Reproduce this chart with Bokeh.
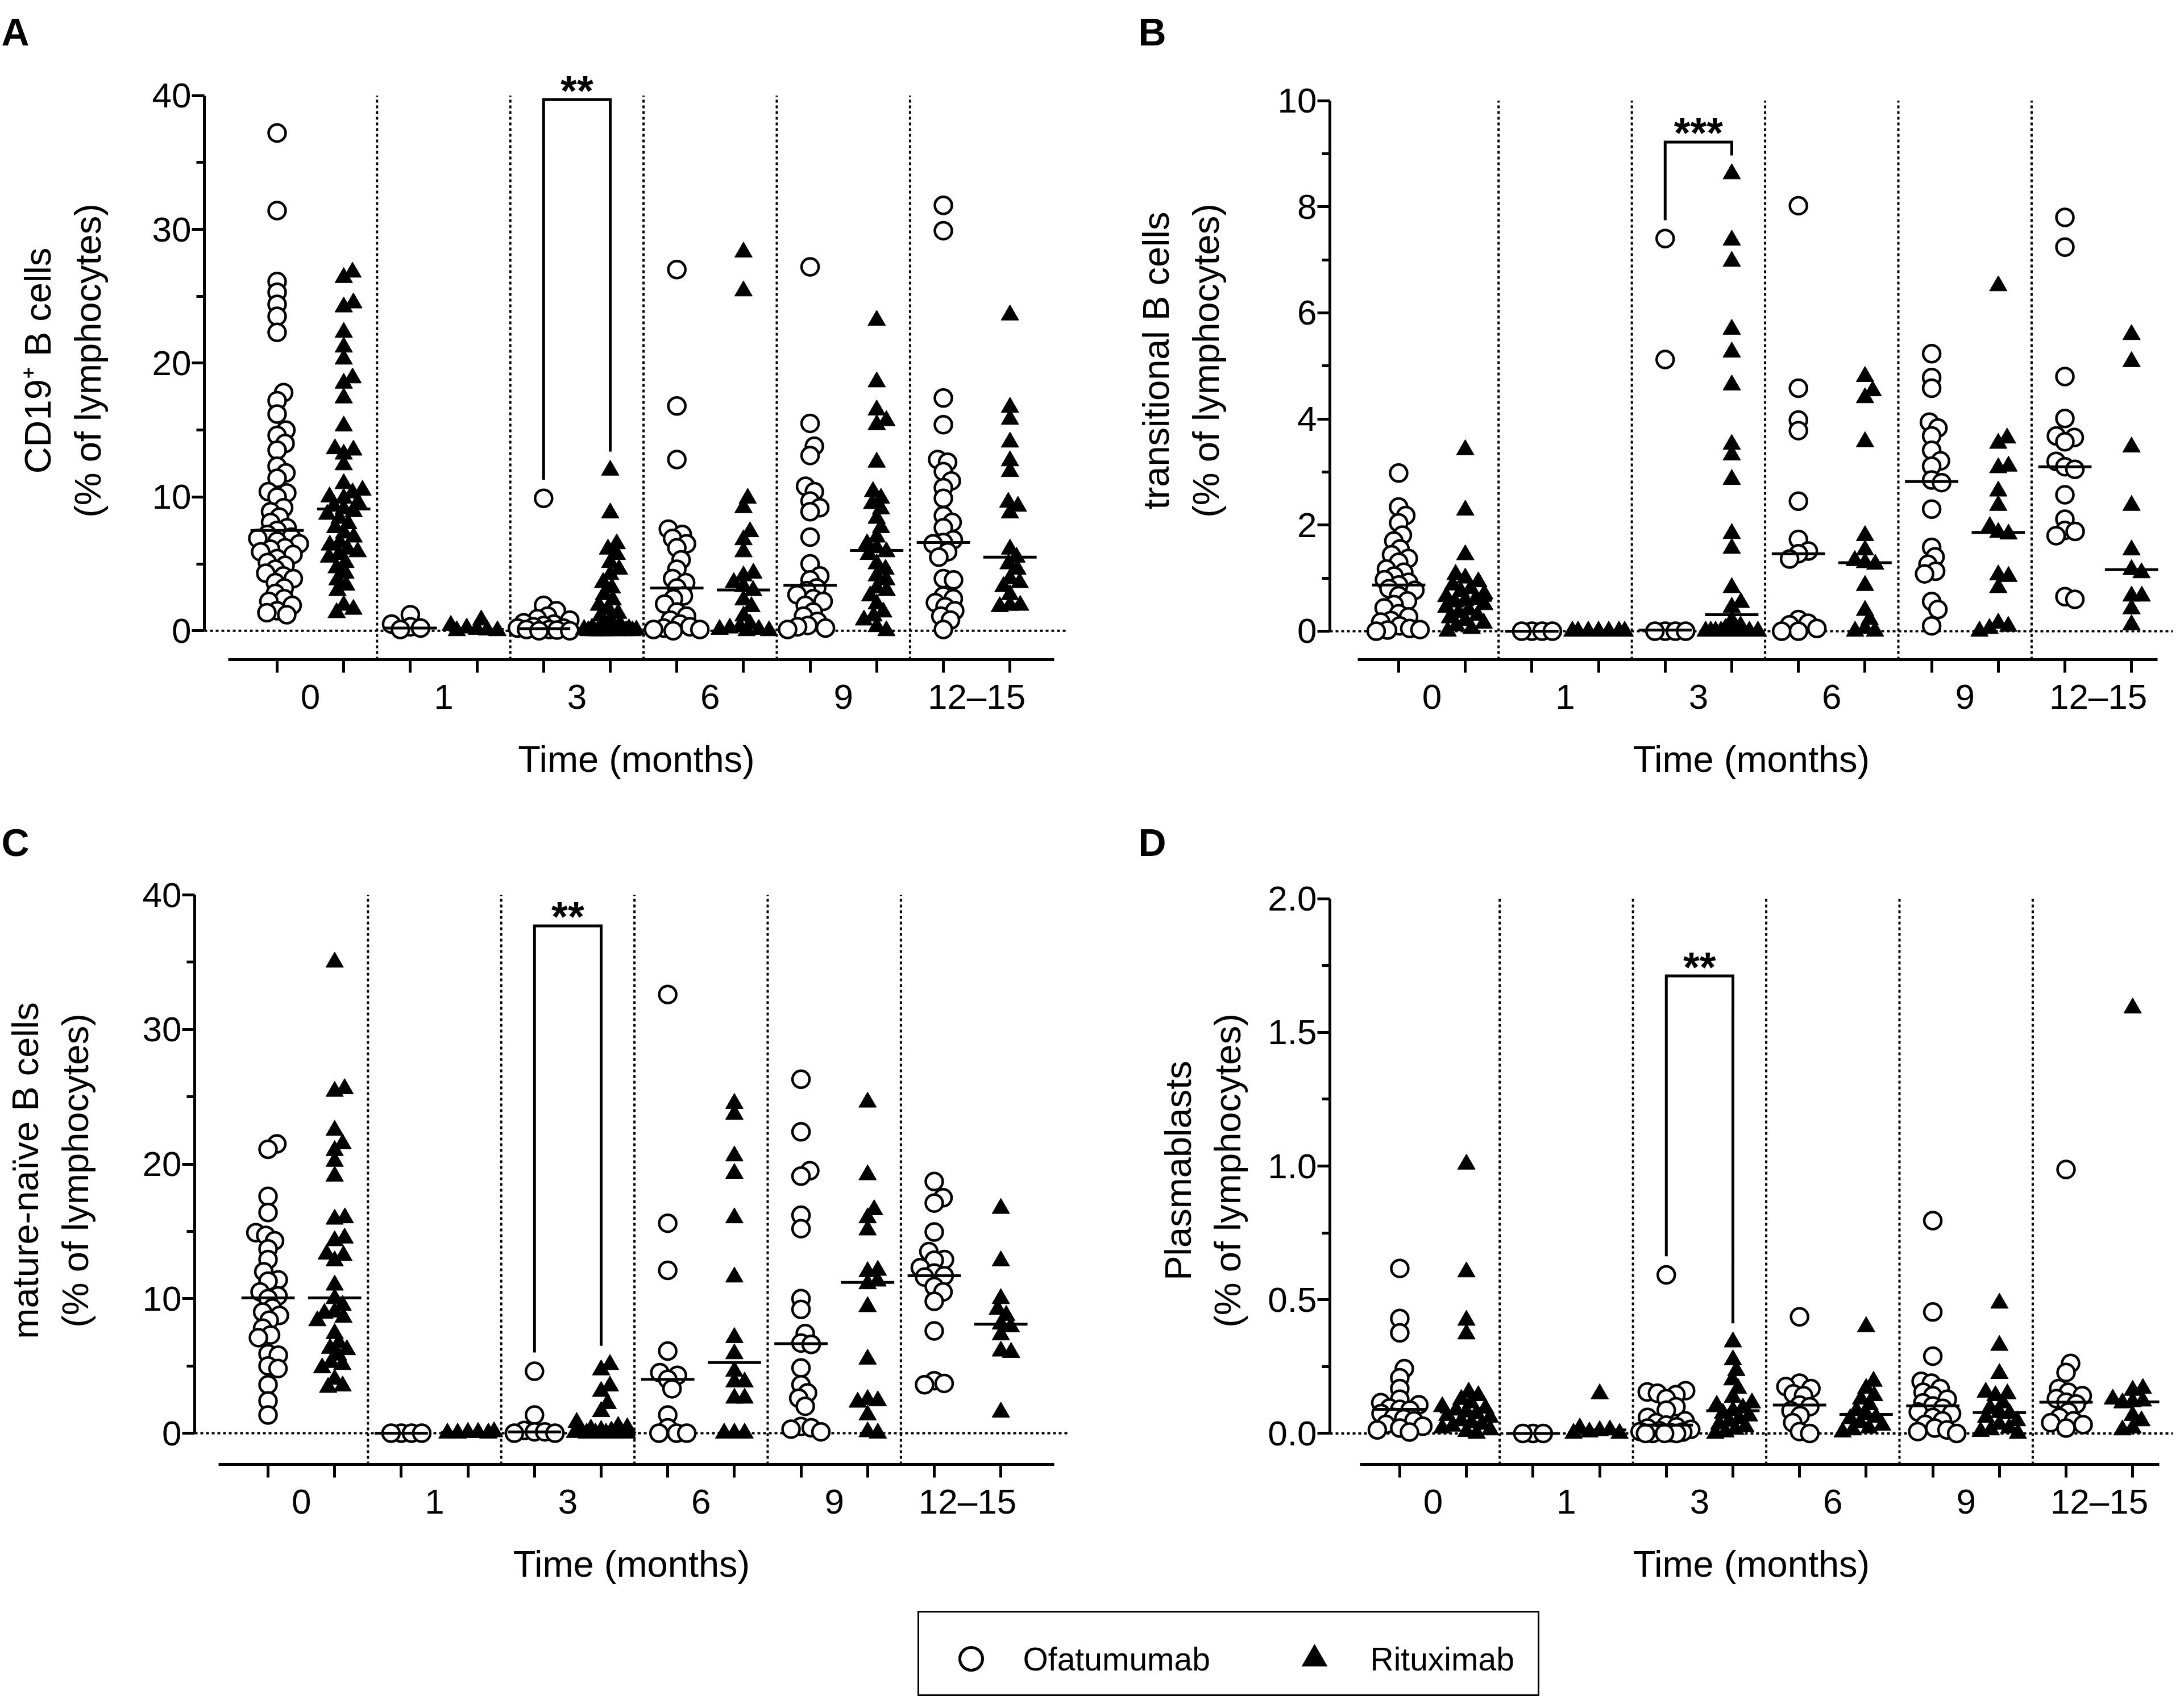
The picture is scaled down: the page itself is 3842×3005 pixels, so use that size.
import numpy as np
from bokeh.plotting import figure
from bokeh.layouts import column, row
from bokeh.models import FixedTicker, Range1d, Span, Title, Spacer
from bokeh.embed import file_html
from bokeh.resources import INLINE
from bokeh.core.properties import value

FONT = "Liberation Sans"

categories = ["0", "1", "3", "6", "9", "12–15"]

# ---------------- Panel A: CD19+ B cells ----------------
cd19_ofa_0 = [37.2, 31.4, 26.1, 25.3, 24.4, 23.5, 22.3, 17.8, 17.2, 16.2, 15.0, 14.6, 14.0, 13.5, 12.3, 11.8, 11.4, 10.4, 10.3, 10.0, 9.2, 8.9, 8.5, 8.1, 7.7, 7.5, 7.2, 7.0, 6.9, 6.7, 6.5, 6.2, 6.1, 5.9, 5.7, 5.4, 5.1, 4.9, 4.6, 4.3, 4.1, 3.9, 3.6, 3.2, 2.8, 2.4, 2.2, 1.9, 1.5, 1.35, 1.2]
cd19_rit_0 = [26.8, 26.4, 24.5, 24.2, 22.3, 21.2, 20.3, 18.9, 18.5, 17.4, 15.3, 13.6, 13.5, 13.2, 12.4, 11.0, 10.5, 10.3, 10.0, 9.9, 9.6, 9.3, 9.1, 8.9, 8.7, 8.4, 8.0, 7.7, 7.3, 7.0, 6.6, 6.4, 6.1, 5.9, 5.7, 5.5, 5.1, 4.7, 4.3, 3.8, 3.4, 3.0, 1.9, 1.6, 1.35]
cd19_ofa_1 = [1.2, 0.5, 0.3, 0.2, 0.1]
cd19_rit_1 = [0.8, 0.4, 0.2, 0.1, 0.05, 0.0, 0.0]
cd19_ofa_3 = [9.9, 1.9, 1.5, 1.1, 0.9, 0.8, 0.6, 0.5, 0.4, 0.3, 0.2, 0.2, 0.1, 0.1, 0.05, 0.0, 0.0]
cd19_rit_3 = [12.0, 8.8, 6.5, 6.1, 5.7, 5.1, 4.6, 4.2, 3.6, 3.2, 2.7, 2.3, 1.9, 1.6, 1.3, 1.1, 0.8, 0.5, 0.3, 0.2, 0.15, 0.1, 0.1, 0.05, 0.05, 0.0, 0.0, 0.0, 0.0, 0.0, 0.0, 0.0, 0.0, 0.0]
cd19_ofa_6 = [27.0, 16.8, 12.8, 7.6, 7.2, 6.9, 6.5, 6.2, 5.3, 4.6, 3.9, 3.6, 3.2, 2.6, 2.4, 2.0, 1.4, 1.1, 0.8, 0.5, 0.3, 0.2, 0.1, 0.1, 0.0]
cd19_rit_6 = [28.3, 25.4, 9.9, 9.2, 7.4, 6.8, 5.9, 4.3, 4.1, 3.6, 3.3, 3.0, 2.3, 1.8, 1.1, 0.5, 0.3, 0.2, 0.1, 0.1, 0.0, 0.0]
cd19_ofa_9 = [27.2, 15.5, 13.8, 13.1, 10.8, 10.4, 9.7, 9.2, 8.9, 7.0, 5.0, 4.1, 3.8, 3.2, 3.0, 2.7, 2.4, 2.2, 1.9, 1.4, 1.1, 0.7, 0.4, 0.3, 0.2, 0.1]
cd19_rit_9 = [23.2, 18.6, 16.5, 15.7, 15.4, 12.6, 10.4, 9.9, 9.5, 9.1, 8.4, 7.7, 7.0, 6.5, 6.2, 5.9, 5.7, 5.0, 4.6, 4.1, 3.8, 3.2, 3.0, 2.6, 2.0, 1.4, 1.1, 0.8, 0.3, 0.0]
cd19_ofa_12 = [31.8, 29.9, 17.4, 15.4, 12.8, 12.6, 11.9, 11.2, 10.7, 9.9, 8.6, 8.1, 7.7, 6.8, 6.6, 6.5, 5.9, 5.5, 3.9, 3.8, 2.6, 2.4, 2.1, 1.8, 1.5, 1.1, 0.8, 0.1]
cd19_rit_12 = [23.6, 16.7, 15.8, 14.1, 12.7, 11.9, 9.6, 9.3, 8.8, 6.1, 5.5, 5.0, 4.6, 3.9, 3.6, 3.3, 2.7, 1.9, 1.9, 1.8]
cd19_ofa_median = [7.5, 0.2, 0.16, 3.2, 3.4, 6.6]
cd19_rit_median = [9.1, 0.1, 0.3, 3.05, 6.0, 5.5]

# ---------------- Panel B: transitional B cells ----------------
tr_ofa_0 = [2.98, 2.34, 2.18, 2.04, 1.81, 1.70, 1.55, 1.44, 1.37, 1.30, 1.17, 1.11, 1.04, 0.97, 0.92, 0.87, 0.80, 0.77, 0.67, 0.57, 0.50, 0.44, 0.33, 0.27, 0.20, 0.17, 0.10, 0.05, 0.03, 0.02, 0.0]
tr_rit_0 = [3.42, 2.28, 1.44, 1.07, 1.0, 0.93, 0.87, 0.8, 0.75, 0.7, 0.65, 0.6, 0.58, 0.55, 0.5, 0.45, 0.4, 0.35, 0.3, 0.25, 0.2, 0.15, 0.1, 0.05, 0.0]
tr_ofa_1 = [0.0, 0.0, 0.0, 0.0]
tr_rit_1 = [0.0, 0.0, 0.0, 0.0, 0.0, 0.0, 0.0]
tr_ofa_3 = [7.40, 5.12, 0.0, 0.0, 0.0, 0.0]
tr_rit_3 = [8.62, 7.37, 6.97, 5.69, 5.26, 4.64, 3.52, 3.32, 2.86, 1.84, 1.56, 0.82, 0.54, 0.45, 0.2, 0.1, 0.05, 0.0, 0.0, 0.0, 0.0, 0.0, 0.0, 0.0, 0.0, 0.0, 0.0]
tr_ofa_6 = [8.02, 4.58, 3.98, 3.78, 2.45, 1.73, 1.51, 1.46, 1.36, 0.22, 0.15, 0.12, 0.05, 0.0, 0.0]
tr_rit_6 = [4.80, 4.53, 4.40, 3.57, 1.80, 1.53, 1.33, 1.29, 1.26, 0.86, 0.39, 0.22, 0.05, 0.0, 0.0]
tr_ofa_9 = [5.23, 4.78, 4.58, 3.94, 3.83, 3.68, 3.41, 3.21, 3.11, 2.85, 2.80, 2.30, 1.58, 1.40, 1.26, 1.13, 1.08, 0.56, 0.41, 0.1]
tr_rit_9 = [6.51, 3.64, 3.54, 3.11, 3.08, 2.64, 2.37, 1.97, 1.86, 1.83, 1.06, 1.03, 0.82, 0.15, 0.09, 0.05, 0.0]
tr_ofa_12 = [7.80, 7.24, 4.80, 4.01, 3.68, 3.65, 3.57, 3.20, 3.10, 3.05, 2.57, 2.11, 1.90, 1.88, 1.80, 0.65, 0.60]
tr_rit_12 = [5.59, 5.08, 3.47, 2.37, 1.53, 1.16, 1.10, 0.66, 0.66, 0.42, 0.12]
tr_ofa_median = [0.87, 0.0, 0.02, 1.46, 2.82, 3.10]
tr_rit_median = [0.58, 0.0, 0.31, 1.29, 1.86, 1.16]

# ---------------- Panel C: mature-naive B cells ----------------
nv_ofa_0 = [21.5, 21.1, 17.6, 16.4, 14.9, 14.7, 14.3, 13.7, 12.9, 12.0, 11.4, 11.3, 10.5, 10.2, 10.0, 9.3, 9.0, 8.75, 8.4, 7.8, 7.3, 7.1, 5.9, 5.8, 5.0, 4.8, 3.6, 2.4, 1.35]
nv_rit_0 = [35.0, 25.6, 25.4, 22.5, 21.5, 21.0, 20.2, 19.1, 16.0, 15.9, 14.5, 14.3, 13.3, 13.2, 12.8, 11.0, 10.0, 9.5, 9.0, 8.9, 8.6, 8.35, 7.4, 6.7, 6.3, 6.2, 5.8, 5.25, 5.1, 4.85, 4.0, 3.5, 3.4]
nv_ofa_1 = [0.0, 0.0, 0.0, 0.0]
nv_rit_1 = [0.1, 0.05, 0.05, 0.0, 0.0, 0.0]
nv_ofa_3 = [4.6, 1.35, 0.2, 0.1, 0.1, 0.0, 0.0]
nv_rit_3 = [5.1, 4.7, 3.5, 3.1, 2.2, 1.6, 0.8, 0.5, 0.4, 0.3, 0.2, 0.15, 0.1, 0.05, 0.05, 0.0, 0.0, 0.0, 0.0, 0.0, 0.0]
nv_ofa_6 = [32.6, 15.6, 12.1, 6.1, 4.5, 4.3, 4.0, 3.3, 1.35, 0.4, 0.0, 0.0, 0.0]
nv_rit_6 = [24.5, 23.7, 20.6, 19.3, 16.0, 11.6, 7.1, 5.9, 4.6, 3.8, 3.8, 2.6, 2.6, 0.0, 0.0, 0.0]
nv_ofa_9 = [26.3, 22.4, 19.5, 19.1, 16.2, 15.2, 10.0, 9.2, 7.4, 6.7, 6.6, 4.85, 3.6, 3.0, 2.6, 2.0, 0.5, 0.4, 0.3, 0.1]
nv_rit_9 = [24.6, 19.2, 16.6, 16.0, 15.1, 12.1, 12.0, 11.3, 11.1, 9.4, 5.5, 2.5, 2.4, 2.3, 1.35, 0.1, 0.0]
nv_ofa_12 = [18.7, 17.5, 17.1, 14.95, 13.5, 12.9, 12.85, 12.3, 11.9, 11.7, 11.6, 10.9, 10.5, 9.8, 7.6, 3.9, 3.7, 3.6]
nv_rit_12 = [16.7, 12.8, 10.0, 9.2, 8.75, 8.1, 7.9, 7.3, 6.1, 6.0, 1.56]
nv_ofa_median = [10.05, 0.0, 0.1, 4.0, 6.65, 11.7]
nv_rit_median = [10.05, 0.05, 0.1, 5.25, 11.2, 8.1]

# ---------------- Panel D: plasmablasts ----------------
pb_ofa_0 = [0.617, 0.43, 0.376, 0.242, 0.208, 0.168, 0.128, 0.115, 0.107, 0.095, 0.09, 0.087, 0.074, 0.06, 0.055, 0.047, 0.034, 0.027, 0.02, 0.013, 0.005]
pb_rit_0 = [1.007, 0.604, 0.423, 0.372, 0.154, 0.141, 0.127, 0.114, 0.10, 0.094, 0.087, 0.08, 0.074, 0.067, 0.06, 0.047, 0.04, 0.034, 0.027, 0.02, 0.013, 0.007, 0.0]
pb_ofa_1 = [0.0, 0.0, 0.0]
pb_rit_1 = [0.148, 0.02, 0.013, 0.01, 0.005, 0.0, 0.0]
pb_ofa_3 = [0.593, 0.16, 0.155, 0.15, 0.145, 0.13, 0.1, 0.087, 0.06, 0.047, 0.04, 0.031, 0.025, 0.02, 0.015, 0.01, 0.007, 0.005, 0.003, 0.0, 0.0, 0.0, 0.0]
pb_rit_3 = [0.342, 0.275, 0.235, 0.2, 0.168, 0.135, 0.114, 0.105, 0.095, 0.085, 0.075, 0.065, 0.055, 0.045, 0.035, 0.025, 0.015, 0.005, 0.0]
pb_ofa_6 = [0.436, 0.188, 0.175, 0.168, 0.148, 0.141, 0.106, 0.1, 0.085, 0.067, 0.04, 0.007, 0.0]
pb_rit_6 = [0.399, 0.195, 0.168, 0.141, 0.128, 0.107, 0.085, 0.071, 0.06, 0.055, 0.04, 0.03, 0.02, 0.013, 0.005]
pb_ofa_9 = [0.796, 0.454, 0.289, 0.195, 0.188, 0.168, 0.154, 0.141, 0.128, 0.114, 0.103, 0.094, 0.08, 0.074, 0.06, 0.047, 0.034, 0.02, 0.013, 0.007, 0.0]
pb_rit_9 = [0.487, 0.329, 0.224, 0.154, 0.148, 0.141, 0.114, 0.095, 0.078, 0.074, 0.06, 0.047, 0.034, 0.02, 0.013, 0.007, 0.0]
pb_ofa_12 = [0.987, 0.262, 0.228, 0.168, 0.154, 0.141, 0.13, 0.117, 0.11, 0.08, 0.06, 0.047, 0.04, 0.033, 0.02]
pb_rit_12 = [1.591, 0.168, 0.161, 0.128, 0.121, 0.118, 0.114, 0.067, 0.047, 0.02, 0.013]
pb_ofa_median = [0.09, 0.0, 0.031, 0.106, 0.103, 0.117]
pb_rit_median = [0.08, 0.013, 0.085, 0.071, 0.078, 0.118]

# y-axis tick values per panel
cd19_ticks = [0, 10, 20, 30, 40]
cd19_minor = [5, 15, 25, 35]
tr_ticks = [0, 2, 4, 6, 8, 10]
tr_minor = [1, 3, 5, 7, 9]
nv_ticks = [0, 10, 20, 30, 40]
nv_minor = [5, 15, 25, 35]
pb_ticks = [0.0, 0.5, 1.0, 1.5, 2.0]
pb_tick_labels = ["0.0", "0.5", "1.0", "1.5", "2.0"]
pb_minor = [0.25, 0.75, 1.25, 1.75]

# significance (month 3 comparison)
sig_labels = ["**", "***", "**", "**"]

UX = 117.2          # px per x unit
MEDIAN_HALF = 0.4   # half-width of median bar (x units)


def swarm_offsets(vals, ppu_y, dmin=18.0, max_off=46.0):
    vals = np.asarray(vals, float)
    n = len(vals)
    offs = np.zeros(n)
    if n == 0:
        return offs
    med = np.median(vals)
    order = np.argsort(np.abs(vals - med), kind="stable")
    steps = np.arange(0.5, max_off + 0.25, 0.5)
    cands = np.concatenate([[0.0], np.ravel(np.column_stack([steps, -steps]))])
    px, py = [], []
    for i in order:
        y = vals[i] * ppu_y
        if not px:
            offs[i] = 0.0
        else:
            ax = np.array(px)
            ay = np.array(py)
            dy2 = (ay - y) ** 2
            d2 = np.array([np.min((ax - c) ** 2 + dy2) for c in cands])
            ok = np.where(d2 >= dmin ** 2)[0]
            offs[i] = cands[ok[0]] if len(ok) else cands[int(np.argmax(d2))]
        px.append(offs[i])
        py.append(y)
    return offs


def make_panel(letter, ylabel, ofa_groups, rit_groups, ofa_med, rit_med,
               ymax, ticks, minor, tick_labels, sig, bracket_top, g):
    title = Title(text=letter, align="left", offset=g["toff"], standoff=g["tstand"],
                  text_font=FONT, text_font_size="68px", text_font_style="bold",
                  text_color="black")
    p = figure(width=g["width"], height=g["height"], title=title,
               x_range=Range1d(*g["xr"]), y_range=Range1d(*g["yr"]),
               output_backend="svg", toolbar_location=None,
               min_border_left=g["mbl"], min_border_right=g["mbr"],
               min_border_top=g["mbt"], min_border_bottom=g["mbb"])
    p.xgrid.visible = False
    p.ygrid.visible = False
    p.outline_line_color = None

    # y axis
    ya = p.yaxis[0]
    ya.ticker = FixedTicker(ticks=ticks, minor_ticks=minor)
    ya.bounds = (0, ymax)
    ya.axis_line_width = 5
    ya.major_tick_line_width = 5
    ya.minor_tick_line_width = 5
    ya.major_tick_out = 22
    ya.major_tick_in = 0
    ya.minor_tick_out = 14
    ya.minor_tick_in = 0
    ya.major_label_standoff = 1
    ya.major_label_text_font = FONT
    ya.major_label_text_font_size = "62px"
    ya.major_label_text_color = "black"
    ya.major_label_overrides = {t: s for t, s in zip(ticks, tick_labels)}
    ya.axis_label = ylabel
    ya.axis_label_text_font = FONT
    ya.axis_label_text_font_size = "65px"
    ya.axis_label_text_font_style = "normal"
    ya.axis_label_text_color = "black"
    ya.axis_label_standoff = g["std"]

    # x axis
    n = len(categories)
    xa = p.xaxis[0]
    xa.ticker = FixedTicker(ticks=[2 * i + 0.5 for i in range(n)],
                            minor_ticks=list(range(2 * n)))
    xa.bounds = g["xb"]
    xa.axis_line_width = 5
    xa.major_tick_line_color = None
    xa.major_tick_out = 23
    xa.major_tick_in = 0
    xa.minor_tick_out = 23
    xa.minor_tick_in = 0
    xa.minor_tick_line_width = 5
    xa.major_label_standoff = 7
    xa.major_label_overrides = {2 * i + 0.5: c for i, c in enumerate(categories)}
    xa.major_label_text_font = FONT
    xa.major_label_text_font_size = "62px"
    xa.major_label_text_color = "black"
    xa.axis_label = "Time (months)"
    xa.axis_label_text_font = FONT
    xa.axis_label_text_font_size = "65px"
    xa.axis_label_text_font_style = "normal"
    xa.axis_label_text_color = "black"
    xa.axis_label_standoff = 36

    # zero line
    zl = Span(location=0, dimension="width", line_color="black",
              line_width=4, line_dash="5 5", level="underlay")
    p.add_layout(zl)

    # group separators
    seps = [2 * i + 1.5 for i in range(n - 1)]
    p.segment(x0=seps, x1=seps, y0=[g["yr"][0]] * len(seps), y1=[ymax] * len(seps),
              line_color="black", line_width=4, line_dash="5 5")

    ppu = g["ppu"]
    for i in range(n):
        xo, xr = 2 * i, 2 * i + 1
        oo = swarm_offsets(ofa_groups[i], ppu)
        ro = swarm_offsets(rit_groups[i], ppu)
        p.scatter(x=list(xo + oo / UX), y=list(ofa_groups[i]), marker="circle",
                  size=30, fill_color="white", line_color="black", line_width=4.5)
        p.scatter(x=list(xr + ro / UX), y=list(rit_groups[i]), marker="triangle",
                  size=31, fill_color="black", line_color="black", line_width=1)
    # medians
    xs_o = [2 * i for i in range(n)]
    xs_r = [2 * i + 1 for i in range(n)]
    p.segment(x0=[x - MEDIAN_HALF for x in xs_o], x1=[x + MEDIAN_HALF for x in xs_o],
              y0=ofa_med, y1=ofa_med, line_color="black", line_width=5)
    p.segment(x0=[x - MEDIAN_HALF for x in xs_r], x1=[x + MEDIAN_HALF for x in xs_r],
              y0=rit_med, y1=rit_med, line_color="black", line_width=5)

    # significance bracket at month 3
    gap = 33.0 / ppu
    xo, xr = 4, 5
    lo = max(ofa_groups[2]) + gap
    hi = max(rit_groups[2]) + gap
    p.line(x=[xo, xo, xr, xr], y=[lo, bracket_top, bracket_top, hi],
           line_color="black", line_width=5, line_join="miter")
    p.text(x=[(xo + xr) / 2], y=[bracket_top], text=[sig], text_align="center",
           text_baseline="alphabetic", y_offset=-16, text_font=value(FONT),
           text_font_size="74px", text_font_style="bold", text_color="black")
    return p


GEO = {
    "A": dict(width=1912, height=1405, mbl=359, mbr=33, mbt=102, mbb=245,
              xr=(-1.092, 11.877), yr=(-2.154, 42.534), xb=(-0.73, 11.66),
              ppu=23.675, std=74, toff=-357, tstand=30),
    "B": dict(width=1914, height=1405, mbl=427, mbr=4, mbt=102, mbb=230,
              xr=(-1.032, 11.621), yr=(-0.536, 10.735), xb=(-0.61, 11.39),
              ppu=95.2, std=87, toff=-337, tstand=30),
    "C": dict(width=1912, height=1427, mbl=342, mbr=33, mbt=137, mbb=256,
              xr=(-1.101, 12.014), yr=(-2.323, 41.352), xb=(-0.74, 11.8),
              ppu=23.675, std=79, toff=-340, tstand=46),
    "D": dict(width=1914, height=1427, mbl=427, mbr=4, mbt=137, mbb=246,
              xr=(-1.049, 11.604), yr=(-0.116, 2.082), xb=(-0.6, 11.4),
              ppu=475.0, std=31, toff=-337, tstand=46),
}

pA = make_panel("A", "CD19⁺ B cells\n(% of lymphocytes)",
                [cd19_ofa_0, cd19_ofa_1, cd19_ofa_3, cd19_ofa_6, cd19_ofa_9, cd19_ofa_12],
                [cd19_rit_0, cd19_rit_1, cd19_rit_3, cd19_rit_6, cd19_rit_9, cd19_rit_12],
                cd19_ofa_median, cd19_rit_median, 40, cd19_ticks, cd19_minor,
                [str(t) for t in cd19_ticks], sig_labels[0], 39.7, GEO["A"])
pB = make_panel("B", "transitional B cells\n(% of lymphocytes)",
                [tr_ofa_0, tr_ofa_1, tr_ofa_3, tr_ofa_6, tr_ofa_9, tr_ofa_12],
                [tr_rit_0, tr_rit_1, tr_rit_3, tr_rit_6, tr_rit_9, tr_rit_12],
                tr_ofa_median, tr_rit_median, 10, tr_ticks, tr_minor,
                [str(t) for t in tr_ticks], sig_labels[1], 9.22, GEO["B"])
pC = make_panel("C", "mature-naïve B cells\n(% of lymphocytes)",
                [nv_ofa_0, nv_ofa_1, nv_ofa_3, nv_ofa_6, nv_ofa_9, nv_ofa_12],
                [nv_rit_0, nv_rit_1, nv_rit_3, nv_rit_6, nv_rit_9, nv_rit_12],
                nv_ofa_median, nv_rit_median, 40, nv_ticks, nv_minor,
                [str(t) for t in nv_ticks], sig_labels[2], 37.7, GEO["C"])
pD = make_panel("D", "Plasmablasts\n(% of lymphocytes)",
                [pb_ofa_0, pb_ofa_1, pb_ofa_3, pb_ofa_6, pb_ofa_9, pb_ofa_12],
                [pb_rit_0, pb_rit_1, pb_rit_3, pb_rit_6, pb_rit_9, pb_rit_12],
                pb_ofa_median, pb_rit_median, 2.0, pb_ticks, pb_minor,
                pb_tick_labels, sig_labels[3], 1.711, GEO["D"])

# legend box
leg = figure(width=1094, height=150, x_range=Range1d(0, 1094), y_range=Range1d(0, 150),
             output_backend="svg", toolbar_location=None, min_border=0)
leg.axis.visible = False
leg.xgrid.visible = False
leg.ygrid.visible = False
leg.outline_line_color = "black"
leg.outline_line_width = 5
leg.scatter(x=[94], y=[66], marker="circle", size=40, fill_color="white",
            line_color="black", line_width=5)
leg.scatter(x=[698], y=[66], marker="triangle", size=44, fill_color="black",
            line_color="black", line_width=1)
leg.text(x=[185, 796], y=[66, 66], text=["Ofatumumab", "Rituximab"],
         text_baseline="middle", text_align="left", text_font=value(FONT),
         text_font_size="57px", text_color="black")

layout = column(row(pA, pB), row(pC, pD), Spacer(width=10, height=2),
                row(Spacer(width=1614, height=150), leg))

open("out.html", "w").write(file_html(layout, INLINE))
